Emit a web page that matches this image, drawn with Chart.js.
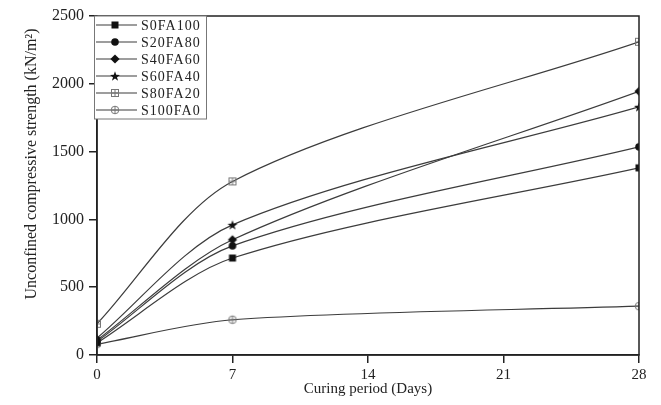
<!DOCTYPE html>
<html lang="en">
<head>
    <meta charset="UTF-8">
    <title>Unconfined compressive strength vs curing period</title>
    <script src="https://cdn.jsdelivr.net/npm/chart.js"></script>
    <style>
        body { margin: 0; padding: 0; background: #fff; }
        .wrap { width: 661px; height: 405px; }
    </style>
</head>
<body>
    <div class="wrap"><canvas id="ucsChart" width="661" height="405"></canvas></div>

    <script>
        // curing days and strengths (kN/m2)
        const days = [0, 7, 28];
        const s0fa100 = [90, 715, 1380];
        const s20fa80 = [100, 805, 1535];
        const s40fa60 = [110, 850, 1945];
        const s60fa40 = [125, 960, 1830];
        const s80fa20 = [230, 1280, 2310];
        const s100fa0 = [80, 260, 360];
        const seriesNames = ['S0FA100', 'S20FA80', 'S40FA60', 'S60FA40', 'S80FA20', 'S100FA0'];
        const xTicks = [0, 7, 14, 21, 28];
        const yTicks = [0, 500, 1000, 1500, 2000, 2500];

        const serif = "'Liberation Serif', 'DejaVu Serif', serif";

        // little canvases used as point markers
        function marker(kind) {
            const c = document.createElement('canvas');
            c.width = 12; c.height = 12;
            const g = c.getContext('2d');
            const m = 6;
            g.fillStyle = '#111';
            g.strokeStyle = '#777';
            g.lineWidth = 1;
            if (kind === 'square') {
                g.fillRect(m - 3.5, m - 3.5, 7, 7);
            } else if (kind === 'circle') {
                g.beginPath(); g.arc(m, m, 3.8, 0, Math.PI * 2); g.fill();
            } else if (kind === 'diamond') {
                g.beginPath();
                g.moveTo(m, m - 4.6); g.lineTo(m + 4.6, m); g.lineTo(m, m + 4.6); g.lineTo(m - 4.6, m);
                g.closePath(); g.fill();
            } else if (kind === 'star') {
                g.beginPath();
                for (let i = 0; i < 10; i++) {
                    const r = i % 2 === 0 ? 5.2 : 2.1;
                    const a = -Math.PI / 2 + i * Math.PI / 5;
                    const px = m + r * Math.cos(a), py = m + 0.5 + r * Math.sin(a);
                    if (i === 0) g.moveTo(px, py); else g.lineTo(px, py);
                }
                g.closePath(); g.fill();
            } else if (kind === 'squarePlus') {
                g.strokeRect(m - 3.5, m - 3.5, 7, 7);
                g.beginPath();
                g.moveTo(m - 3.5, m); g.lineTo(m + 3.5, m);
                g.moveTo(m, m - 3.5); g.lineTo(m, m + 3.5);
                g.stroke();
            } else if (kind === 'circlePlus') {
                g.beginPath(); g.arc(m, m, 3.8, 0, Math.PI * 2); g.stroke();
                g.beginPath();
                g.moveTo(m - 3.8, m); g.lineTo(m + 3.8, m);
                g.moveTo(m, m - 3.8); g.lineTo(m, m + 3.8);
                g.stroke();
            }
            return c;
        }

        const markers = ['square', 'circle', 'diamond', 'star', 'squarePlus', 'circlePlus'].map(marker);
        const values = [s0fa100, s20fa80, s40fa60, s60fa40, s80fa20, s100fa0];

        const datasets = seriesNames.map((name, i) => ({
            label: name,
            data: days.map((d, j) => ({ x: d, y: values[i][j] })),
            borderColor: '#3c3c3c',
            borderWidth: 1.2,
            pointStyle: markers[i],
            pointRadius: 5,
            tension: 0.3,
            clip: 0,
            fill: false
        }));

        // frame round the plot area
        const frame = {
            id: 'frame',
            afterDatasetsDraw(chart) {
                const { ctx, chartArea: a } = chart;
                ctx.save();
                ctx.strokeStyle = '#222';
                ctx.lineWidth = 1.5;
                ctx.strokeRect(a.left, a.top, a.right - a.left, a.bottom - a.top);
                ctx.restore();
            }
        };

        // boxed legend with line + marker samples, top left
        const boxLegend = {
            id: 'boxLegend',
            afterDraw(chart) {
                const ctx = chart.ctx;
                const a = chart.chartArea;
                const x0 = a.left - 3, y0 = a.top, w = 112, rowH = 17;
                ctx.save();
                ctx.fillStyle = '#fff';
                ctx.fillRect(x0, y0, w, rowH * seriesNames.length + 1);
                ctx.strokeStyle = '#777';
                ctx.lineWidth = 1;
                ctx.strokeRect(x0 + 0.5, y0, w, rowH * seriesNames.length + 1);
                ctx.font = '14px ' + serif;
                ctx.letterSpacing = '1px';
                ctx.textBaseline = 'middle';
                seriesNames.forEach((name, i) => {
                    const y = y0 + 9 + i * rowH;
                    ctx.strokeStyle = '#3c3c3c';
                    ctx.lineWidth = 1.2;
                    ctx.beginPath();
                    ctx.moveTo(x0 + 2, y); ctx.lineTo(x0 + 43, y);
                    ctx.stroke();
                    const mk = markers[i];
                    ctx.drawImage(mk, x0 + 21 - mk.width / 2, y - mk.height / 2);
                    ctx.fillStyle = '#222';
                    ctx.fillText(name, x0 + 47, y + 1);
                });
                ctx.restore();
            }
        };

        // rotated y-axis title
        const yTitle = {
            id: 'yTitle',
            afterDraw(chart) {
                const ctx = chart.ctx;
                ctx.save();
                ctx.translate(32, 164);
                ctx.rotate(-Math.PI / 2);
                ctx.font = '16px ' + serif;
                ctx.fillStyle = '#222';
                ctx.textAlign = 'center';
                ctx.textBaseline = 'middle';
                ctx.fillText('Unconfined compressive strength (kN/m²)', 0, 0);
                ctx.restore();
            }
        };

        new Chart(document.getElementById('ucsChart'), {
            type: 'line',
            data: { datasets: datasets },
            options: {
                responsive: false,
                animation: false,
                layout: { padding: { top: 16, right: 22, left: 0, bottom: 0 } },
                plugins: {
                    legend: { display: false },
                    tooltip: { enabled: false }
                },
                scales: {
                    x: {
                        type: 'linear',
                        min: 0,
                        max: 28,
                        afterBuildTicks: s => { s.ticks = xTicks.map(v => ({ value: v })); },
                        afterFit: s => { s.height = 50; },
                        grid: { drawOnChartArea: false, drawTicks: true, tickLength: 8, color: '#222', lineWidth: 1.5 },
                        border: { display: true, color: '#222', width: 1.5 },
                        ticks: { color: '#222', padding: 3, font: { family: serif, size: 15 }, callback: v => String(v) },
                        title: {
                            display: true,
                            text: 'Curing period (Days)',
                            color: '#222',
                            font: { family: serif, size: 15 },
                            padding: { top: 0, bottom: 7 }
                        }
                    },
                    y: {
                        min: 0,
                        max: 2500,
                        afterBuildTicks: s => { s.ticks = yTicks.map(v => ({ value: v })); },
                        afterFit: s => { s.width = 97; },
                        grid: { drawOnChartArea: false, drawTicks: true, tickLength: 8, color: '#222', lineWidth: 1.5 },
                        border: { display: true, color: '#222', width: 1.5 },
                        ticks: { color: '#222', padding: 5, font: { family: serif, size: 16 }, callback: v => String(v) }
                    }
                }
            },
            plugins: [frame, boxLegend, yTitle]
        });
    </script>
</body>
</html>
